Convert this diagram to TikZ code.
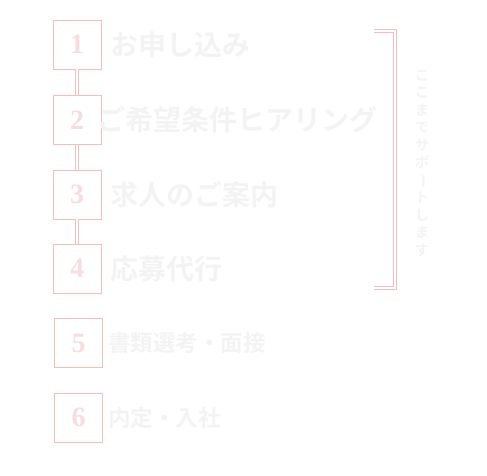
\documentclass[tikz,border=0pt]{standalone}
\usepackage{fontspec}
\usepackage{graphicx}
\newfontfamily\jpfont{Noto Sans CJK JP Bold}
\newfontfamily\numfont{Liberation Serif}
\definecolor{linepink}{RGB}{242,190,192}
\definecolor{numpink}{RGB}{246,222,224}
\definecolor{textgray}{RGB}{243,243,243}
\begin{document}
\begin{tikzpicture}[x=1pt,y=-1pt]
  \tikzset{
    step box/.style={draw=linepink, line width=0.9pt, fill=white, minimum width=48pt, minimum height=49pt, inner sep=0pt,
      font=\numfont\bfseries\fontsize{28}{30}\selectfont, text=numpink},
    step text/.style={anchor=west, inner sep=0pt, text=textgray, font=\jpfont\fontsize{28}{30}\selectfont},
    small text/.style={step text, font=\jpfont\fontsize{22.5}{24}\selectfont},
    join line/.style={draw=white, line width=2.6pt, preaction={draw=linepink, line width=4.2pt}},
  }
  \useasboundingbox (0,0) rectangle (487,475);
  % steps with agent
  \node[step box] (s1) at (77,44.5) {1};
  \node[step box] (s2) at (77,120) {2};
  \node[step box] (s3) at (77,194.5) {3};
  \node[step box] (s4) at (77,268.5) {4};
  \draw[join line] (s1.south) -- (s2.north);
  \draw[join line] (s2.south) -- (s3.north);
  \draw[join line] (s3.south) -- (s4.north);
  \node[step text] (t1) at (110,45) {お申し込み};
  \node[step text] (t2) at (97,120) {ご希望条件ヒアリング};
  \node[step text] (t3) at (110,195) {求人のご案内};
  \node[step text] (t4) at (110,269) {応募代行};
  % steps by company
  \node[step box] (s5) at (78.5,343) {5};
  \node[step box] (s6) at (78.5,417.5) {6};
  \node[small text] (t5) at (108,343) {書類選考・面接};
  \node[small text] (t6) at (108,418) {内定・入社};
  % bracket
  \coordinate (b1) at (374,31);
  \coordinate (b2) at (395,31);
  \coordinate (b3) at (395,288);
  \coordinate (b4) at (374,288);
  \draw[join line, line width=1.4pt, preaction={line width=3pt}] (b1) -- (b2) -- (b3) -- (b4);
  \node[text=textgray, font=\jpfont\fontsize{14}{17.5}\selectfont, align=center, inner sep=0pt] (note) at (422,163)
    {こ\\こ\\ま\\で\\サ\\ポ\\\rotatebox[origin=c]{-90}{ー}\\ト\\し\\ま\\す};
\end{tikzpicture}
\end{document}
